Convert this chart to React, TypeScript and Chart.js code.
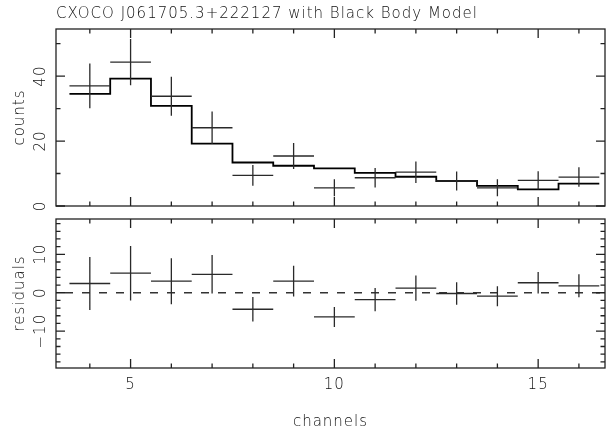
import React, { useEffect, useRef } from 'react';
import { Chart, registerables } from 'chart.js';

Chart.register(...registerables);

// ---------- data ----------
const TITLE = 'CXOCO J061705.3+222127 with Black Body Model';
const X_TITLE = 'channels';
const Y_TITLE_TOP = 'counts';
const Y_TITLE_BOTTOM = 'residuals';

const channels = [4, 5, 6, 7, 8, 9, 10, 11, 12, 13, 14, 15, 16];
const counts = [37.0, 44.3, 33.8, 24.1, 9.4, 15.4, 5.6, 8.7, 10.4, 7.7, 5.6, 7.9, 8.9];
const errors = [6.9, 7.1, 6.0, 5.0, 3.2, 4.0, 2.6, 3.0, 3.3, 2.9, 2.6, 2.8, 3.0];
const model = [34.5, 39.2, 30.8, 19.2, 13.4, 12.4, 11.6, 10.2, 9.0, 7.7, 6.2, 5.1, 6.9];
const residuals = [2.4, 5.1, 3.0, 4.8, -4.3, 3.0, -6.3, -1.8, 1.2, -0.2, -0.9, 2.6, 1.8];

const channelTicks = [5, 10, 15];
const channelTickLabels = ['5', '10', '15'];
const countTicks = [0, 20, 40];
const countTickLabels = ['0', '20', '40'];
const residualTicks = [-10, 0, 10];
const residualTickLabels = ['\u221210', '0', '10'];

const X_MIN = 3.17;
const X_MAX = 16.64;
const BIN_HALF = 0.5;

// ---------- helpers ----------
type P = { x: number; y: number | null };

function crossPoints(xs: number[], ys: number[], es: number[]): P[] {
  const pts: P[] = [];
  xs.forEach((x, i) => {
    const y = ys[i];
    const e = es[i];
    pts.push({ x: x - BIN_HALF, y }, { x: x + BIN_HALF, y }, { x: x + BIN_HALF, y: null });
    pts.push({ x, y: y - e }, { x, y: y + e }, { x, y: null });
  });
  return pts;
}

function stepPoints(xs: number[], ys: number[]): P[] {
  const pts: P[] = [];
  xs.forEach((x, i) => {
    pts.push({ x: x - BIN_HALF, y: ys[i] }, { x: x + BIN_HALF, y: ys[i] });
  });
  return pts;
}

const FONT = '200 15px "DejaVu Sans", "Liberation Sans", sans-serif';
const INK = '#111';

function setFont(ctx: CanvasRenderingContext2D) {
  ctx.font = FONT;
  ctx.fillStyle = INK;
  try {
    (ctx as any).letterSpacing = '1px';
  } catch (e) {
    /* ignore */
  }
}

const framePlugin = {
  id: 'frame',
  afterDatasetsDraw(chart: any, _args: any, opts: any) {
    const { ctx, chartArea: a } = chart;
    const xs = chart.scales.x;
    const ys = chart.scales.y;
    ctx.save();
    // box
    ctx.strokeStyle = '#222';
    ctx.lineWidth = 1.3;
    ctx.strokeRect(a.left, a.top, a.right - a.left, a.bottom - a.top);

    // ticks
    const MAJ = 9;
    const MIN = 4.5;
    ctx.beginPath();
    for (let v = Math.ceil(xs.min); v <= xs.max; v += 1) {
      const px = xs.getPixelForValue(v);
      const len = channelTicks.includes(v) ? MAJ : MIN;
      ctx.moveTo(px, a.bottom);
      ctx.lineTo(px, a.bottom - len);
      ctx.moveTo(px, a.top);
      ctx.lineTo(px, a.top + len);
    }
    const step: number = opts.yMinorStep;
    const majors: number[] = opts.yTicks;
    for (let v = Math.ceil(ys.min / step) * step; v <= ys.max + 1e-9; v += step) {
      const py = ys.getPixelForValue(v);
      const isMaj = majors.some((m) => Math.abs(m - v) < 1e-6);
      const len = isMaj ? MAJ : MIN;
      ctx.moveTo(a.left, py);
      ctx.lineTo(a.left + len, py);
      ctx.moveTo(a.right, py);
      ctx.lineTo(a.right - len, py);
    }
    ctx.stroke();

    // y tick labels (rotated, reading upward)
    setFont(ctx);
    ctx.textAlign = 'center';
    ctx.textBaseline = 'alphabetic';
    majors.forEach((v: number, i: number) => {
      const py = ys.getPixelForValue(v);
      ctx.save();
      ctx.translate(44.5, py);
      ctx.rotate(-Math.PI / 2);
      ctx.fillText(opts.yTickLabels[i], 0, 0);
      ctx.restore();
    });

    // y axis title
    ctx.save();
    ctx.translate(23.5, (a.top + a.bottom) / 2);
    ctx.rotate(-Math.PI / 2);
    ctx.fillText(opts.yTitle, 0, 0);
    ctx.restore();

    if (opts.showX) {
      channelTicks.forEach((v, i) => {
        ctx.fillText(channelTickLabels[i], xs.getPixelForValue(v), 389);
      });
      ctx.fillText(X_TITLE, (a.left + a.right) / 2, 426);
    }
    if (opts.title) {
      ctx.textAlign = 'left';
      ctx.fillText(opts.title, a.left, 18);
    }
    ctx.restore();
  },
};

function baseOptions(padding: any, yMin: number, yMax: number, frame: any): any {
  return {
    animation: false,
    responsive: false,
    devicePixelRatio: 1,
    events: [],
    layout: { padding },
    plugins: { legend: { display: false }, tooltip: { enabled: false }, frame },
    scales: {
      x: { type: 'linear', min: X_MIN, max: X_MAX, display: false },
      y: { type: 'linear', min: yMin, max: yMax, display: false },
    },
  };
}

export default function App() {
  const topRef = useRef<HTMLCanvasElement>(null);
  const botRef = useRef<HTMLCanvasElement>(null);

  useEffect(() => {
    const top = new Chart(topRef.current as HTMLCanvasElement, {
      type: 'line',
      data: {
        datasets: [
          {
            data: crossPoints(channels, counts, errors) as any,
            borderColor: '#2a2a2a',
            borderWidth: 1.3,
            pointRadius: 0,
            spanGaps: false,
            fill: false,
            tension: 0,
          },
          {
            data: stepPoints(channels, model) as any,
            borderColor: '#000',
            borderWidth: 1.8,
            pointRadius: 0,
            fill: false,
            tension: 0,
          },
        ],
      },
      options: baseOptions({ left: 56, right: 1, top: 29, bottom: 224 }, 0, 54.5, {
        yMinorStep: 10,
        yTicks: countTicks,
        yTickLabels: countTickLabels,
        yTitle: Y_TITLE_TOP,
        showX: false,
        title: TITLE,
      }),
      plugins: [framePlugin as any],
    });

    const bottom = new Chart(botRef.current as HTMLCanvasElement, {
      type: 'line',
      data: {
        datasets: [
          {
            data: crossPoints(channels, residuals, errors) as any,
            borderColor: '#2a2a2a',
            borderWidth: 1.3,
            pointRadius: 0,
            spanGaps: false,
            fill: false,
            tension: 0,
          },
          {
            data: [
              { x: X_MIN, y: 0 },
              { x: X_MAX, y: 0 },
            ] as any,
            borderColor: '#333',
            borderWidth: 1.3,
            borderDash: [8, 9],
            borderDashOffset: 8,
            pointRadius: 0,
            fill: false,
          },
        ],
      },
      options: baseOptions({ left: 56, right: 1, top: 219, bottom: 62 }, -19.6, 19.2, {
        yMinorStep: 2,
        yTicks: residualTicks,
        yTickLabels: residualTickLabels,
        yTitle: Y_TITLE_BOTTOM,
        showX: true,
        title: null,
      }),
      plugins: [framePlugin as any],
    });

    return () => {
      top.destroy();
      bottom.destroy();
    };
  }, []);

  const cs: React.CSSProperties = { position: 'absolute', left: 0, top: 0, width: 606, height: 430, display: 'block' };
  return (
    <div style={{ position: 'absolute', left: 0, top: 0, width: 606, height: 430, background: '#fff' }}>
      <canvas ref={botRef} width={606} height={430} style={cs} />
      <canvas ref={topRef} width={606} height={430} style={cs} />
    </div>
  );
}
